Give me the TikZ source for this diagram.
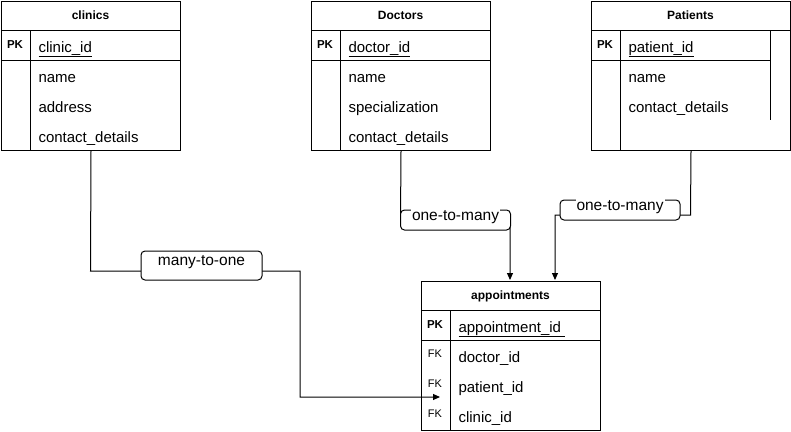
\documentclass[tikz,border=0pt]{standalone}
\usepackage{fontspec}
\setmainfont{Liberation Sans}
\usetikzlibrary{arrows.meta}
\begin{document}
\begin{tikzpicture}[x=1pt,y=-1pt, line width=1pt,
 tbl/.style={draw, inner sep=0pt, anchor=north west},
 ttl/.style={font=\fontsize{12}{14}\selectfont\bfseries, anchor=base, inner sep=0pt},
 keyb/.style={font=\fontsize{11.5}{14}\selectfont\bfseries, anchor=base, inner sep=0pt},
 fkey/.style={font=\fontsize{11}{13}\selectfont, anchor=base, inner sep=0pt},
 fld/.style={font=\fontsize{15}{18}\selectfont, anchor=base west, inner sep=0pt},
 lblbox/.style={draw, rounded corners=4pt, fill=white, inner sep=0pt},
 lbltxt/.style={font=\fontsize{15.5}{18}\selectfont, fill=white, inner sep=1pt, anchor=base},
 arr/.style={-{Triangle[length=7pt,width=6pt]}}
]
\useasboundingbox (0,0) rectangle (791,431);
\fill[white] (0,0) rectangle (791,431);

% ---------- clinics ----------
\node[tbl, minimum width=179pt, minimum height=149pt] (clinics) at (1,1) {};
\draw (1,30) -- (180,30);
\draw (1,60) -- (180,60);
\draw (30.5,30) -- (30.5,150);
\node[ttl] (clinicsT) at (90.5,19.5) {clinics};
\node[keyb] (clinicsPK) at (15,48.5) {PK};
\node[fld] (clinicsF1) at (38,52) {\underline{clinic\_id}};
\node[fld] (clinicsF2) at (38,82) {name};
\node[fld] (clinicsF3) at (38,112) {address};
\node[fld] (clinicsF4) at (38,142) {contact\_details};

% ---------- Doctors ----------
\node[tbl, minimum width=179pt, minimum height=149pt] (doctors) at (311,1) {};
\draw (311,30) -- (490,30);
\draw (311,60) -- (490,60);
\draw (340.5,30) -- (340.5,150);
\node[ttl] (doctorsT) at (400.5,19.5) {Doctors};
\node[keyb] (doctorsPK) at (325,48.5) {PK};
\node[fld] (doctorsF1) at (348,52) {\underline{doctor\_id}};
\node[fld] (doctorsF2) at (348,82) {name};
\node[fld] (doctorsF3) at (348,112) {specialization};
\node[fld] (doctorsF4) at (348,142) {contact\_details};

% ---------- Patients ----------
\node[tbl, minimum width=199pt, minimum height=149pt] (patients) at (591,1) {};
\draw (591,30) -- (790,30);
\draw (591,60) -- (770.5,60);
\draw (620.5,30) -- (620.5,150);
\draw (770.5,30) -- (770.5,120);
\node[ttl] (patientsT) at (690.5,19.5) {Patients};
\node[keyb] (patientsPK) at (605,48.5) {PK};
\node[fld] (patientsF1) at (628,52) {\underline{patient\_id}};
\node[fld] (patientsF2) at (628,82) {name};
\node[fld] (patientsF3) at (628,112) {contact\_details};

% ---------- appointments ----------
\node[tbl, minimum width=179pt, minimum height=149pt] (appointments) at (421,281) {};
\draw (421,310) -- (600,310);
\draw (421,340) -- (600,340);
\draw (450.5,310) -- (450.5,430);
\node[ttl] (appointmentsT) at (510.5,299) {appointments};
\node[keyb] (appointmentsPK) at (435,328.5) {PK};
\node[fkey] (appointmentsFK1) at (435,357.5) {FK};
\node[fkey] (appointmentsFK2) at (435,387.5) {FK};
\node[fkey] (appointmentsFK3) at (435,417.5) {FK};
\node[fld] (appointmentsF1) at (458,332) {\underline{appointment\_id\ }};
\node[fld] (appointmentsF2) at (458,362) {doctor\_id};
\node[fld] (appointmentsF3) at (458,392) {patient\_id};
\node[fld] (appointmentsF4) at (458,422) {clinic\_id};

% ---------- connectors ----------
\coordinate (a1) at (440,397);
\coordinate (a2) at (510,280);
\coordinate (a3) at (555,280);
\draw[arr] (clinics.south) -- (90.5,271) -- (300,271) -- (300,397) -- (a1);
\draw[arr] (doctors.south) -- (400.5,220) -- (510,220) -- (a2);
\draw[arr] (patients.south) -- (690.5,215) -- (555,215) -- (a3);

% ---------- labels ----------
\node[lblbox, minimum width=121pt, minimum height=29pt] (l1) at (201.5,265.5) {};
\node[lbltxt] (l1t) at (201.5,265) {many-to-one};
\node[lblbox, minimum width=110pt, minimum height=20pt] (l2) at (455.5,220) {};
\node[lbltxt] (l2t) at (455.5,220.5) {one-to-many};
\node[lblbox, minimum width=120pt, minimum height=20pt] (l3) at (620,210) {};
\node[lbltxt] (l3t) at (620,210.5) {one-to-many};
\end{tikzpicture}
\end{document}
